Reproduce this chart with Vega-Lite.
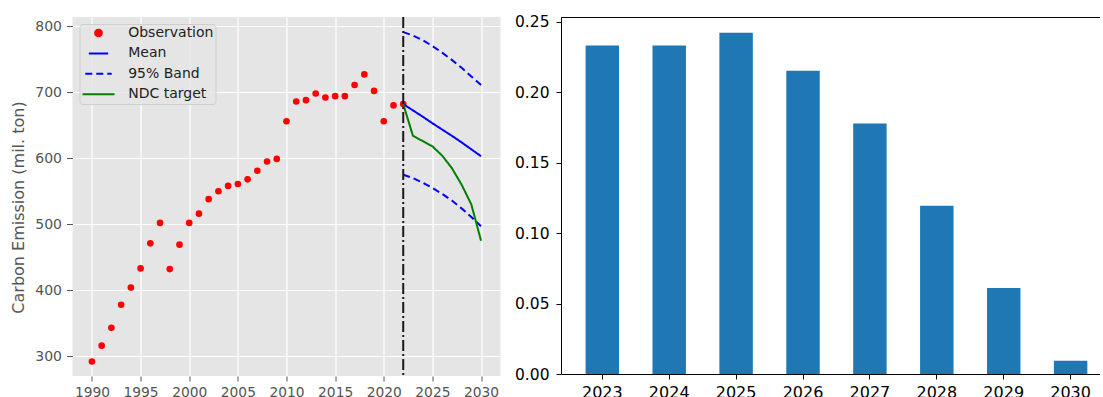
{
  "$schema": "https://vega.github.io/schema/vega-lite/v6.json",
  "padding": {"left": 10.5, "top": 14, "right": 0, "bottom": 0},
  "spacing": 13.5,
  "config": {
    "font": "DejaVu Sans",
    "axis": {"labelFont": "DejaVu Sans", "titleFont": "DejaVu Sans"},
    "legend": {"labelFont": "DejaVu Sans"}
  },
  "datasets": {
    "obs": [
      {"year": 1990, "value": 292, "series": "Observation"},
      {"year": 1991, "value": 316, "series": "Observation"},
      {"year": 1992, "value": 343, "series": "Observation"},
      {"year": 1993, "value": 378, "series": "Observation"},
      {"year": 1994, "value": 404, "series": "Observation"},
      {"year": 1995, "value": 433, "series": "Observation"},
      {"year": 1996, "value": 471, "series": "Observation"},
      {"year": 1997, "value": 502, "series": "Observation"},
      {"year": 1998, "value": 432, "series": "Observation"},
      {"year": 1999, "value": 469, "series": "Observation"},
      {"year": 2000, "value": 502, "series": "Observation"},
      {"year": 2001, "value": 516, "series": "Observation"},
      {"year": 2002, "value": 538, "series": "Observation"},
      {"year": 2003, "value": 550, "series": "Observation"},
      {"year": 2004, "value": 558, "series": "Observation"},
      {"year": 2005, "value": 561, "series": "Observation"},
      {"year": 2006, "value": 568, "series": "Observation"},
      {"year": 2007, "value": 581, "series": "Observation"},
      {"year": 2008, "value": 595, "series": "Observation"},
      {"year": 2009, "value": 599, "series": "Observation"},
      {"year": 2010, "value": 656, "series": "Observation"},
      {"year": 2011, "value": 686, "series": "Observation"},
      {"year": 2012, "value": 688, "series": "Observation"},
      {"year": 2013, "value": 698, "series": "Observation"},
      {"year": 2014, "value": 692, "series": "Observation"},
      {"year": 2015, "value": 694, "series": "Observation"},
      {"year": 2016, "value": 694, "series": "Observation"},
      {"year": 2017, "value": 711, "series": "Observation"},
      {"year": 2018, "value": 727, "series": "Observation"},
      {"year": 2019, "value": 702, "series": "Observation"},
      {"year": 2020, "value": 656, "series": "Observation"},
      {"year": 2021, "value": 680, "series": "Observation"},
      {"year": 2022, "value": 682, "series": "Observation"}
    ],
    "fc": [
      {"year": 2022, "series": "Mean", "bound": "mean", "value": 682},
      {"year": 2023, "series": "Mean", "bound": "mean", "value": 672.5},
      {"year": 2024, "series": "Mean", "bound": "mean", "value": 663},
      {"year": 2025, "series": "Mean", "bound": "mean", "value": 653},
      {"year": 2026, "series": "Mean", "bound": "mean", "value": 643.5},
      {"year": 2027, "series": "Mean", "bound": "mean", "value": 634},
      {"year": 2028, "series": "Mean", "bound": "mean", "value": 624},
      {"year": 2029, "series": "Mean", "bound": "mean", "value": 613.5},
      {"year": 2030, "series": "Mean", "bound": "mean", "value": 603},
      {"year": 2022, "series": "95% Band", "bound": "upper", "value": 791},
      {"year": 2023, "series": "95% Band", "bound": "upper", "value": 786},
      {"year": 2024, "series": "95% Band", "bound": "upper", "value": 779},
      {"year": 2025, "series": "95% Band", "bound": "upper", "value": 770},
      {"year": 2026, "series": "95% Band", "bound": "upper", "value": 760},
      {"year": 2027, "series": "95% Band", "bound": "upper", "value": 749},
      {"year": 2028, "series": "95% Band", "bound": "upper", "value": 737},
      {"year": 2029, "series": "95% Band", "bound": "upper", "value": 724},
      {"year": 2030, "series": "95% Band", "bound": "upper", "value": 711},
      {"year": 2022, "series": "95% Band", "bound": "lower", "value": 575},
      {"year": 2023, "series": "95% Band", "bound": "lower", "value": 570},
      {"year": 2024, "series": "95% Band", "bound": "lower", "value": 563},
      {"year": 2025, "series": "95% Band", "bound": "lower", "value": 555},
      {"year": 2026, "series": "95% Band", "bound": "lower", "value": 546},
      {"year": 2027, "series": "95% Band", "bound": "lower", "value": 536},
      {"year": 2028, "series": "95% Band", "bound": "lower", "value": 524},
      {"year": 2029, "series": "95% Band", "bound": "lower", "value": 511},
      {"year": 2030, "series": "95% Band", "bound": "lower", "value": 497},
      {"year": 2022, "series": "NDC target", "bound": "ndc", "value": 682},
      {"year": 2023, "series": "NDC target", "bound": "ndc", "value": 634},
      {"year": 2024, "series": "NDC target", "bound": "ndc", "value": 626},
      {"year": 2025, "series": "NDC target", "bound": "ndc", "value": 618},
      {"year": 2026, "series": "NDC target", "bound": "ndc", "value": 604},
      {"year": 2027, "series": "NDC target", "bound": "ndc", "value": 585},
      {"year": 2028, "series": "NDC target", "bound": "ndc", "value": 560},
      {"year": 2029, "series": "NDC target", "bound": "ndc", "value": 530},
      {"year": 2030, "series": "NDC target", "bound": "ndc", "value": 475}
    ],
    "cut": [{"year": 2022}],
    "prob": [
      {"year": "2023", "p": 0.2333},
      {"year": "2024", "p": 0.2333},
      {"year": "2025", "p": 0.2423},
      {"year": "2026", "p": 0.2154},
      {"year": "2027", "p": 0.1779},
      {"year": "2028", "p": 0.1194},
      {"year": "2029", "p": 0.0611},
      {"year": "2030", "p": 0.0094}
    ]
  },
  "hconcat": [
    {
      "width": 428,
      "height": 359,
      "view": {"fill": "#E5E5E5", "stroke": null},
      "layer": [
        {
          "data": {"name": "obs"},
          "mark": {"type": "point", "filled": true, "opacity": 1},
          "encoding": {
            "x": {
              "field": "year", "type": "quantitative",
              "scale": {"domain": [1988, 2032], "nice": false, "zero": false},
              "axis": {
                "title": null, "values": [1990, 1995, 2000, 2005, 2010, 2015, 2020, 2025, 2030],
                "format": "d", "labelFontSize": 13.8, "labelColor": "#555555",
                "tickColor": "#555555", "tickSize": 5, "labelPadding": 4,
                "domain": false, "grid": true, "gridColor": "#FFFFFF", "gridWidth": 1.2
              }
            },
            "y": {
              "field": "value", "type": "quantitative",
              "scale": {"domain": [270, 814], "nice": false, "zero": false},
              "axis": {
                "title": "Carbon Emission (mil. ton)", "titleFontSize": 16, "titleColor": "#555555",
                "titleFontWeight": "normal", "titlePadding": 8, "titleY": 190,
                "values": [300, 400, 500, 600, 700, 800],
                "labelFontSize": 14, "labelColor": "#555555",
                "tickColor": "#555555", "tickSize": 6, "labelPadding": 5,
                "domain": false, "grid": true, "gridColor": "#FFFFFF", "gridWidth": 1.2
              }
            },
            "color": {
              "field": "series", "type": "nominal",
              "scale": {
                "domain": ["Observation", "Mean", "95% Band", "NDC target"],
                "range": ["#FF0000", "#0000FF", "#0000FF", "#008000"]
              },
              "legend": {
                "title": null, "orient": "top-left", "offset": 7,
                "labelFontSize": 14, "labelColor": "#222222", "labelOffset": 12.7,
                "symbolStrokeWidth": 2, "clipHeight": 14,
                "rowPadding": 6.4, "padding": 2,
                "fillColor": "rgba(229,229,229,0.85)", "strokeColor": "#CFCFCF", "cornerRadius": 3
              }
            },
            "shape": {
              "field": "series", "type": "nominal",
              "scale": {
                "domain": ["Observation", "Mean", "95% Band", "NDC target"],
                "range": ["circle", "stroke", "stroke", "stroke"]
              },
              "legend": {"title": null}
            },
            "size": {
              "field": "series", "type": "nominal",
              "scale": {
                "domain": ["Observation", "Mean", "95% Band", "NDC target"],
                "range": [44, 1024, 1024, 1024]
              },
              "legend": {"title": null}
            }
          }
        },
        {
          "data": {"name": "fc"},
          "mark": {"type": "line", "strokeWidth": 2},
          "encoding": {
            "x": {"field": "year", "type": "quantitative"},
            "y": {"field": "value", "type": "quantitative"},
            "detail": {"field": "bound"},
            "color": {"field": "series", "type": "nominal"},
            "strokeDash": {
              "field": "series", "type": "nominal",
              "scale": {
                "domain": ["Observation", "Mean", "95% Band", "NDC target"],
                "range": [[1, 0], [1, 0], [7, 4], [1, 0]]
              },
              "legend": {"title": null}
            }
          }
        },
        {
          "data": {"name": "cut"},
          "mark": {"type": "rule", "color": "#1A1A1A", "strokeWidth": 2, "strokeDash": [11, 3, 2, 3]},
          "encoding": {
            "x": {"field": "year", "type": "quantitative"}
          }
        }
      ]
    },
    {
      "width": 538.5,
      "height": 357,
      "view": {"stroke": null},
      "data": {"name": "prob"},
      "layer": [
        {
          "mark": {"type": "bar", "color": "#1F77B4"},
          "encoding": {
            "x": {
              "field": "year", "type": "ordinal",
              "scale": {"paddingInner": 0.5, "paddingOuter": 0.2747, "align": 0.669},
              "axis": {
                "title": null, "labelAngle": 0, "labelFontSize": 16, "labelColor": "#000000",
                "tickColor": "#000000", "tickSize": 5, "labelPadding": 5,
                "domainColor": "#000000", "domainWidth": 1, "grid": false
              }
            },
            "y": {
              "field": "p", "type": "quantitative",
              "scale": {"domain": [0, 0.2535], "nice": false},
              "axis": {
                "title": null, "values": [0, 0.05, 0.1, 0.15, 0.2, 0.25], "format": ".2f",
                "labelFontSize": 15.5, "labelColor": "#000000",
                "tickColor": "#000000", "tickSize": 5, "labelPadding": 7,
                "domainColor": "#000000", "domainWidth": 1, "grid": false
              }
            }
          }
        },
        {
          "mark": {"type": "rule", "opacity": 0},
          "encoding": {
            "x": {
              "field": "year", "type": "ordinal",
              "axis": {"orient": "top", "title": null, "labels": false, "ticks": false,
                       "domainColor": "#000000", "domainWidth": 1, "grid": false}
            }
          }
        }
      ],
      "resolve": {"axis": {"x": "independent"}}
    }
  ]
}
